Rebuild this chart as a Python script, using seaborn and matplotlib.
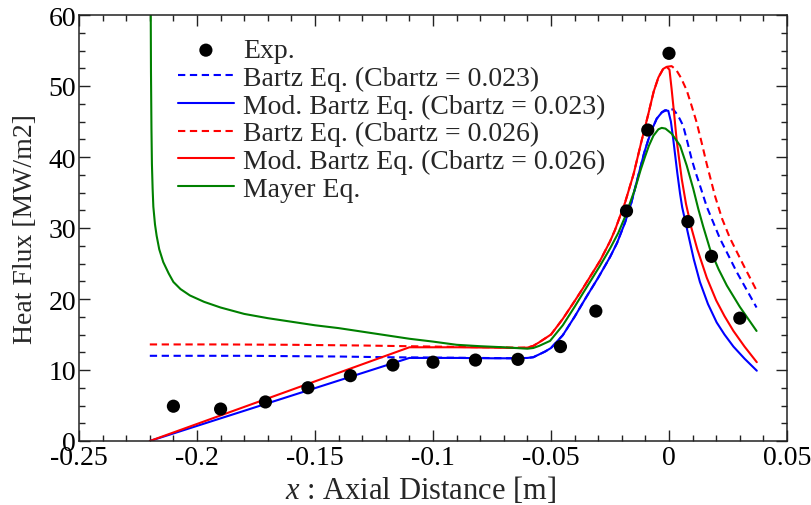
import matplotlib
matplotlib.use("Agg")
import matplotlib.pyplot as plt
import seaborn as sns
from matplotlib.ticker import MultipleLocator, FuncFormatter

# Experimental heat flux
exp_x = [-0.210, -0.190, -0.171, -0.153, -0.135, -0.117, -0.100, -0.082, -0.064,
         -0.046, -0.031, -0.018, -0.009, 0.000, 0.008, 0.018, 0.030]
exp_y = [4.9, 4.5, 5.5, 7.5, 9.2, 10.7, 11.1, 11.4, 11.5,
         13.3, 18.3, 32.4, 43.8, 54.6, 30.9, 26.0, 17.3]

# Bartz Eq. (Cbartz = 0.023)
bartz023_x = [-0.220, -0.200, -0.180, -0.160, -0.140, -0.120, -0.100, -0.080, -0.065,
              -0.060, -0.0575, -0.055, -0.0525, -0.050, -0.045, -0.040, -0.035, -0.030,
              -0.025, -0.022, -0.0186, -0.016, -0.013, -0.0105, -0.0088, -0.0068, -0.0052,
              -0.003, -0.001, 0.0005, 0.0018, 0.0030, 0.0045, 0.0060, 0.0078, 0.0096,
              0.0113, 0.0131, 0.0160, 0.0216, 0.0287, 0.0371]
bartz023_y = [12.0, 12.0, 12.0, 11.95, 11.9, 11.8, 11.75, 11.7, 11.65,
              11.7, 11.8, 12.2, 12.6, 13.1, 14.9, 17.5, 20.3, 23.0,
              25.9, 27.9, 30.8, 33.5, 37.4, 40.6, 42.4, 44.2, 45.4,
              46.3, 46.6, 46.7, 46.7, 46.2, 45.4, 44.4, 42.1, 39.7,
              37.8, 36.0, 33.0, 28.5, 23.8, 18.8]

# Mod. Bartz Eq. (Cbartz = 0.023)
mod023_x = [-0.220, -0.110, -0.090, -0.075, -0.065, -0.060, -0.0575, -0.055, -0.0525,
            -0.050, -0.045, -0.040, -0.035, -0.030, -0.025, -0.022, -0.0186, -0.016,
            -0.013, -0.0105, -0.0088, -0.0068, -0.0052, -0.003, -0.0017, -0.0003,
            0.0008, 0.0018, 0.0035, 0.0047, 0.0056, 0.0070, 0.0082, 0.0105, 0.0131,
            0.0165, 0.0202, 0.0235, 0.0273, 0.0320, 0.0372]
mod023_y = [0.0, 11.7, 11.7, 11.65, 11.65, 11.7, 11.8, 12.2, 12.6,
            13.1, 14.9, 17.5, 20.3, 23.0, 25.9, 27.9, 30.8, 33.5,
            37.4, 40.6, 42.4, 44.2, 45.4, 46.3, 46.6, 46.5,
            45.0, 42.5, 37.8, 34.8, 32.9, 30.8, 29.0, 25.6, 22.4,
            19.3, 16.7, 15.0, 13.3, 11.6, 9.9]

# Bartz Eq. (Cbartz = 0.026)
bartz026_x = [-0.220, -0.190, -0.160, -0.130, -0.110, -0.090, -0.075, -0.065, -0.060,
              -0.0575, -0.055, -0.050, -0.045, -0.040, -0.0363, -0.0292, -0.025, -0.0229,
              -0.0186, -0.015, -0.0116, -0.0088, -0.0065, -0.0045, -0.0025, -0.001, 0.0011,
              0.0030, 0.0050, 0.0075, 0.0095, 0.0117, 0.0140, 0.0160, 0.0195, 0.0225,
              0.0258, 0.0315, 0.0371]
bartz026_y = [13.6, 13.6, 13.55, 13.45, 13.35, 13.25, 13.2, 13.15, 13.15,
              13.4, 13.9, 15.0, 17.2, 19.7, 21.6, 25.4, 28.1, 29.7,
              33.6, 37.6, 42.3, 46.0, 49.2, 51.2, 52.4, 52.7, 52.8,
              52.3, 51.2, 49.4, 47.3, 44.9, 41.8, 39.0, 34.5, 31.3,
              28.6, 24.8, 21.2]

# Mod. Bartz Eq. (Cbartz = 0.026)
mod026_x = [-0.220, -0.110, -0.090, -0.075, -0.065, -0.060, -0.0575, -0.055, -0.050,
            -0.045, -0.040, -0.0363, -0.0292, -0.025, -0.0229, -0.0186, -0.015, -0.0116,
            -0.0088, -0.0065, -0.0045, -0.0025, -0.001, 0.0002, 0.0011, 0.0022, 0.0032,
            0.0054, 0.0072, 0.0095, 0.0120, 0.0160, 0.0200, 0.0235, 0.0273, 0.0320,
            0.0372]
mod026_y = [0.0, 13.2, 13.2, 13.15, 13.1, 13.15, 13.4, 13.9, 15.0,
            17.2, 19.7, 21.6, 25.4, 28.1, 29.7, 33.6, 37.6, 42.3,
            46.0, 49.2, 51.2, 52.4, 52.7, 52.3, 49.6, 46.0, 42.5,
            36.9, 33.4, 30.0, 27.0, 23.0, 19.8, 17.6, 15.5, 13.3,
            11.1]

# Mayer Eq.
mayer_x = [-0.2196, -0.2195, -0.2193, -0.2191, -0.2188, -0.2185, -0.2178, -0.2171, -0.2160,
           -0.2143, -0.2120, -0.2100, -0.2070, -0.2030, -0.1970, -0.1900, -0.1800, -0.1700,
           -0.1600, -0.1500, -0.1400, -0.1300, -0.1200, -0.1100, -0.1000, -0.0900, -0.0800,
           -0.0700, -0.0650, -0.0600, -0.0575, -0.0550, -0.0504, -0.0450, -0.0400, -0.0363,
           -0.0292, -0.0250, -0.0215, -0.0186, -0.0144, -0.0120, -0.0102, -0.0085, -0.0066,
           -0.0045, -0.0031, -0.0015, 0.0011, 0.0047, 0.0075, 0.0103, 0.0124, 0.0145,
           0.0174, 0.0210, 0.0245, 0.0300, 0.0371]
mayer_y = [60.0, 52.0, 44.0, 39.0, 35.5, 33.0, 30.5, 28.9, 27.0,
           25.2, 23.6, 22.4, 21.4, 20.5, 19.6, 18.8, 17.9, 17.3,
           16.8, 16.3, 15.9, 15.4, 14.9, 14.4, 14.0, 13.55, 13.35,
           13.2, 13.1, 13.0, 13.1, 13.4, 14.1, 16.3, 18.9, 20.9,
           24.7, 27.1, 29.3, 31.6, 35.5, 38.2, 40.0, 41.6, 43.0,
           43.9, 44.1, 44.0, 43.3, 41.6, 38.8, 35.5, 32.7, 30.2,
           27.0, 24.2, 21.9, 18.9, 15.5]

sns.set_theme(style="ticks")
plt.rcParams.update({
    "font.family": ["Liberation Serif", "DejaVu Serif"],
    "mathtext.fontset": "custom",
    "mathtext.rm": "Liberation Serif",
    "mathtext.it": "Liberation Serif:italic",
    "axes.unicode_minus": False,
    "axes.edgecolor": "#222222",
    "axes.linewidth": 1.1,
})

FS = 20
LW = 1.5

fig = plt.figure(figsize=(8.12, 5.06), dpi=100)
ax = fig.add_axes([79 / 812, 64 / 506, 708 / 812, 426 / 506])

series = [
    ("Bartz Eq. (Cbartz = 0.023)", bartz023_x, bartz023_y, "blue", True),
    ("Mod. Bartz Eq. (Cbartz = 0.023)", mod023_x, mod023_y, "blue", False),
    ("Bartz Eq. (Cbartz = 0.026)", bartz026_x, bartz026_y, "red", True),
    ("Mod. Bartz Eq. (Cbartz = 0.026)", mod026_x, mod026_y, "red", False),
    ("Mayer Eq.", mayer_x, mayer_y, "green", False),
]

handles = {}
for label, xs, ys, color, dashed in series:
    sns.lineplot(x=xs, y=ys, ax=ax, color=color, linewidth=LW, sort=False,
                 estimator=None, label=label, zorder=2)
    line = ax.lines[-1]
    if dashed:
        line.set_dashes((3.5, 2.2))
    handles[label] = line

sns.scatterplot(x=exp_x, y=exp_y, ax=ax, color="black", s=90, edgecolor="none",
                label="Exp.", zorder=4)
handles["Exp."] = ax.collections[-1]

ax.set_xlim(-0.25, 0.05)
ax.set_ylim(0, 60)
ax.xaxis.set_major_locator(MultipleLocator(0.05))
ax.xaxis.set_minor_locator(MultipleLocator(0.01))
ax.yaxis.set_major_locator(MultipleLocator(10))
ax.yaxis.set_minor_locator(MultipleLocator(2.5))
ax.xaxis.set_major_formatter(FuncFormatter(lambda v, p: f"{round(v, 2):g}"))
ax.yaxis.set_major_formatter(FuncFormatter(lambda v, p: f"{v:g}"))

ax.tick_params(which="both", direction="in", top=True, right=True,
               colors="#222222", labelcolor="black", labelsize=FS)
ax.tick_params(which="major", length=8, width=1.0, pad=3)
ax.tick_params(which="minor", length=4, width=1.0)
ax.tick_params(axis="y", which="major", pad=2)

ax.set_xlabel("$x$ : Axial Distance [m]", fontsize=22)
ax.set_ylabel("Heat Flux [MW/m2]", fontsize=FS)
ax.xaxis.set_label_coords(0.483, -0.077)
ax.yaxis.set_label_coords(-0.058, 0.5)

order = ["Exp.", "Bartz Eq. (Cbartz = 0.023)", "Mod. Bartz Eq. (Cbartz = 0.023)",
         "Bartz Eq. (Cbartz = 0.026)", "Mod. Bartz Eq. (Cbartz = 0.026)", "Mayer Eq."]
ax.legend([handles[k] for k in order], order, loc="upper left",
          bbox_to_anchor=(0.14, 0.946), frameon=False, fontsize=FS,
          borderpad=0, borderaxespad=0, handlelength=2.0, handletextpad=0.35,
          labelspacing=0.08, scatterpoints=1)

fig.savefig("out.png", dpi=100)
